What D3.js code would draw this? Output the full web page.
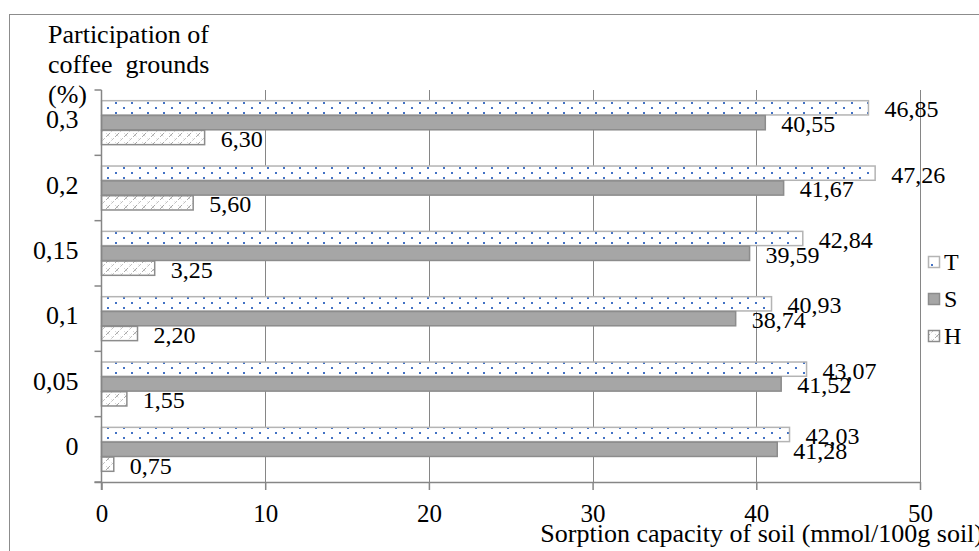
<!DOCTYPE html>
<html>
<head>
    <title>Sorption capacity of soil</title>
    <script src="https://d3js.org/d3.v7.min.js"></script>
    <style>
        body { margin: 0; background: #fff; }
        text { font-family: "Liberation Serif", "Times New Roman", serif; fill: #000; }
    </style>
</head>
<body>
    <div id="chart"></div>

    <script>
        // categories top to bottom, as drawn
        const categories = ["0,3", "0,2", "0,15", "0,1", "0,05", "0"];
        const seriesNames = ["T", "S", "H"];
        const valuesT = [46.85, 47.26, 42.84, 40.93, 43.07, 42.03];
        const valuesS = [40.55, 41.67, 39.59, 38.74, 41.52, 41.28];
        const valuesH = [6.30, 5.60, 3.25, 2.20, 1.55, 0.75];
        const xTicks = [0, 10, 20, 30, 40, 50];

        const series = { T: valuesT, S: valuesS, H: valuesH };
        const rows = [];
        categories.forEach((c, i) => {
            seriesNames.forEach(s => rows.push({ cat: c, key: s, value: series[s][i] }));
        });

        const width = 979, height = 551;
        const svg = d3.select("#chart").append("svg")
            .attr("width", width)
            .attr("height", height);

        const defs = svg.append("defs");

        // dotted fill for T
        const pT = defs.append("pattern")
            .attr("id", "patT")
            .attr("patternUnits", "userSpaceOnUse")
            .attr("width", 16).attr("height", 10);
        pT.append("rect").attr("width", 16).attr("height", 10).attr("fill", "#fff");
        pT.append("rect").attr("x", 3).attr("y", 2).attr("width", 2).attr("height", 2).attr("fill", "#4472c4");
        pT.append("rect").attr("x", 11).attr("y", 7).attr("width", 2).attr("height", 2).attr("fill", "#4472c4");

        // hatched fill for H
        const pH = defs.append("pattern")
            .attr("id", "patH")
            .attr("patternUnits", "userSpaceOnUse")
            .attr("width", 9).attr("height", 9);
        pH.append("rect").attr("width", 9).attr("height", 9).attr("fill", "#fff");
        pH.append("path").attr("d", "M0,9 L9,0").attr("stroke", "#a6a6a6").attr("stroke-width", 1).attr("stroke-dasharray", "3,2");
        pH.append("path").attr("d", "M0,0 L9,9").attr("stroke", "#c8c8c8").attr("stroke-width", 0.8).attr("stroke-dasharray", "2,3");

        const fills = { T: "url(#patT)", S: "#a6a6a6", H: "url(#patH)" };
        const strokes = { T: "#b4b4b4", S: "#8c8c8c", H: "#8c8c8c" };

        // outer chart border
        svg.append("rect")
            .attr("x", 9.5).attr("y", 14.5)
            .attr("width", 1000).attr("height", 600)
            .attr("fill", "none")
            .attr("stroke", "#8c8c8c");

        const x = d3.scaleLinear()
            .domain([0, 50])
            .range([101.5, 920]);

        const y = d3.scaleBand()
            .domain(categories)
            .range([90, 482])
            .paddingInner(0)
            .paddingOuter(0);

        const yInner = d3.scaleBand()
            .domain(seriesNames)
            .range([0, y.bandwidth()])
            .paddingInner(0.04)
            .paddingOuter(0.72);

        const gridColor = "#868686";

        // vertical gridlines
        svg.append("g")
            .selectAll("line")
            .data(xTicks.slice(1))
            .join("line")
              .attr("x1", d => Math.round(x(d)) + 0.5)
              .attr("x2", d => Math.round(x(d)) + 0.5)
              .attr("y1", 90)
              .attr("y2", 482)
              .attr("stroke", gridColor);

        // bars
        svg.append("g")
            .selectAll("rect")
            .data(rows)
            .join("rect")
              .attr("x", x(0))
              .attr("y", d => y(d.cat) + yInner(d.key))
              .attr("width", d => x(d.value) - x(0))
              .attr("height", yInner.bandwidth())
              .attr("fill", d => fills[d.key])
              .attr("stroke", d => strokes[d.key])
              .attr("stroke-width", 1.5);

        // value labels
        const fmt = v => d3.format(".2f")(v).replace(".", ",");
        svg.append("g")
            .selectAll("text")
            .data(rows)
            .join("text")
              .attr("x", d => x(d.value) + 16)
              .attr("y", d => y(d.cat) + yInner(d.key) + yInner.bandwidth() / 2 + 1)
              .attr("dy", "0.35em")
              .style("font-size", "24px")
              .text(d => fmt(d.value));

        // y axis
        const yAxis = svg.append("g")
            .attr("transform", "translate(101.5,0)");
        yAxis.append("line")
            .attr("y1", 90).attr("y2", 490)
            .attr("stroke", gridColor).attr("stroke-width", 1.5);
        yAxis.selectAll(".tick")
            .data(categories.map(c => y(c)).concat([482]))
            .join("line")
              .attr("class", "tick")
              .attr("x1", -7).attr("x2", 0)
              .attr("y1", d => d).attr("y2", d => d)
              .attr("stroke", gridColor).attr("stroke-width", 1.5);
        yAxis.selectAll("text")
            .data(categories)
            .join("text")
              .attr("x", -23)
              .attr("y", d => y(d) + y.bandwidth() / 2)
              .attr("dy", "0.22em")
              .attr("text-anchor", "end")
              .style("font-size", "26px")
              .text(d => d);

        // x axis
        const xAxis = svg.append("g")
            .attr("transform", "translate(0,482)")
            .call(d3.axisBottom(x).tickValues(xTicks).tickSize(8).tickSizeOuter(0).tickFormat(d3.format("d")));
        xAxis.select(".domain")
            .attr("d", "M94.5,0.5H920")
            .attr("stroke", gridColor).attr("stroke-width", 1.5);
        xAxis.selectAll(".tick line").attr("stroke", gridColor).attr("stroke-width", 1.5);
        xAxis.selectAll(".tick text")
            .attr("y", 22)
            .attr("dy", "0.71em")
            .style("font-size", "25px")
            .style("font-family", "'Liberation Serif', serif");

        // axis titles
        const titleLines = ["Participation of", "coffee  grounds", "(%)"];
        svg.append("text")
            .attr("x", 48)
            .style("font-size", "26px")
            .style("white-space", "pre")
            .selectAll("tspan")
            .data(titleLines)
            .join("tspan")
              .attr("x", 48)
              .attr("y", (d, i) => 42.5 + i * 30)
              .text(d => d);

        svg.append("text")
            .attr("x", 983)
            .attr("y", 542)
            .attr("text-anchor", "end")
            .style("font-size", "26px")
            .text("Sorption capacity of soil (mmol/100g soil)");

        // legend
        const legendY = [262, 299, 336];
        const legend = svg.append("g")
            .selectAll("g")
            .data(seriesNames)
            .join("g")
              .attr("transform", (d, i) => "translate(928," + legendY[i] + ")");
        legend.append("rect")
            .attr("x", 0.5).attr("y", -5.5)
            .attr("width", 11).attr("height", 11)
            .attr("fill", d => fills[d])
            .attr("stroke", d => d === "T" ? "#b4b4b4" : "#8c8c8c")
            .attr("stroke-width", 1.5);
        legend.append("text")
            .attr("x", 16)
            .attr("dy", "0.35em")
            .style("font-size", "24px")
            .text(d => d);
    </script>
</body>
</html>
